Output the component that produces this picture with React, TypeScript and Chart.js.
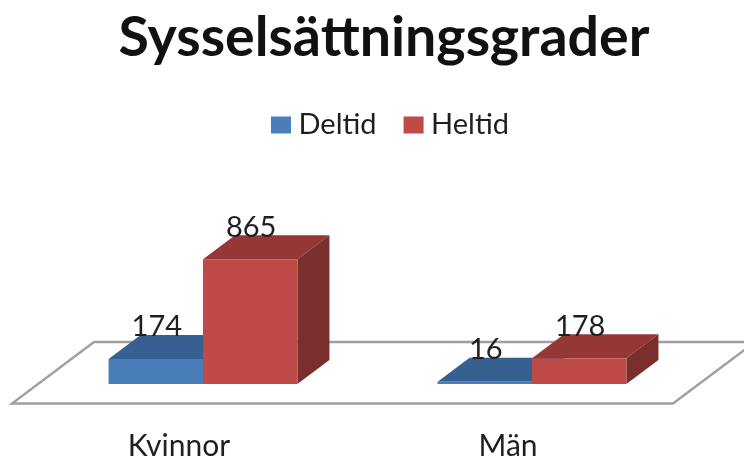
import React, { useEffect, useRef } from "react";
import { Chart, registerables } from "chart.js";

Chart.register(...registerables);

const categories = ["Kvinnor", "Män"];
const deltid = [174, 16];
const heltid = [865, 178];
const seriesNames = ["Deltid", "Heltid"];

const FONT = "Lato, Carlito, 'Open Sans', sans-serif";
const TEXT = "#1f1f1f";
const BLUE = { front: "#4a7ebb", top: "#376092", side: "#2f5480" };
const RED = { front: "#be4b48", top: "#953735", side: "#7a2f2d" };
const DEPTH_X = 32;
const DEPTH_Y = 24;

const floorPlugin = {
  id: "floor3d",
  afterLayout(chart: any) {
    chart.titleBlock.left += 16.5;
    chart.titleBlock.right += 16.5;
    chart.legend.left += 26;
    chart.legend.right += 26;
  },
  beforeDatasetsDraw(chart: any) {
    const { ctx, scales } = chart;
    const base = scales.y.getPixelForValue(0);
    const cx = (scales.x.getPixelForValue(0) + scales.x.getPixelForValue(1)) / 2;
    const frontY = base + 19.5;
    const backY = base - 42;
    ctx.save();
    ctx.strokeStyle = "#a0a0a0";
    ctx.lineWidth = 2.4;
    ctx.fillStyle = "#ffffff";
    ctx.beginPath();
    ctx.moveTo(cx - 355.5, frontY);
    ctx.lineTo(cx + 305.5, frontY);
    ctx.lineTo(cx + 387.5, backY);
    ctx.lineTo(cx - 273.5, backY);
    ctx.closePath();
    ctx.fill();
    ctx.stroke();
    ctx.restore();

    const palette = [BLUE, RED];
    categories.forEach((_, i) => {
      [0, 1].forEach((d) => {
        const bar = chart.getDatasetMeta(d).data[i];
        const half = bar.width / 2;
        const l = bar.x - half;
        const r = bar.x + half;
        const t = bar.y;
        const b = bar.base;
        ctx.fillStyle = palette[d].top;
        ctx.beginPath();
        ctx.moveTo(l, t);
        ctx.lineTo(l + DEPTH_X, t - DEPTH_Y);
        ctx.lineTo(r + DEPTH_X, t - DEPTH_Y);
        ctx.lineTo(r, t);
        ctx.closePath();
        ctx.fill();
        ctx.fillStyle = palette[d].side;
        ctx.beginPath();
        ctx.moveTo(r, t);
        ctx.lineTo(r + DEPTH_X, t - DEPTH_Y);
        ctx.lineTo(r + DEPTH_X, b - DEPTH_Y);
        ctx.lineTo(r, b);
        ctx.closePath();
        ctx.fill();
      });
    });
  },
  afterDatasetsDraw(chart: any) {
    const { ctx } = chart;
    ctx.save();
    ctx.font = `29px ${FONT}`;
    ctx.fillStyle = TEXT;
    ctx.textAlign = "center";
    ctx.textBaseline = "middle";
    [deltid, heltid].forEach((vals, d) => {
      vals.forEach((v, i) => {
        const bar = chart.getDatasetMeta(d).data[i];
        ctx.fillText(String(v), bar.x + 1, bar.y - 32);
      });
    });
    ctx.restore();
  },
};

export default function App() {
  const ref = useRef<HTMLCanvasElement>(null);
  useEffect(() => {
    const chart = new Chart(ref.current!, {
      type: "bar",
      data: {
        labels: categories,
        datasets: [
          { label: seriesNames[0], data: deltid, backgroundColor: BLUE.front },
          { label: seriesNames[1], data: heltid, backgroundColor: RED.front },
        ],
      },
      options: {
        animation: false,
        responsive: false,
        datasets: { bar: { categoryPercentage: 0.574, barPercentage: 1 } },
        layout: { padding: { left: 38.5, right: 47.5, top: 0, bottom: 0 } },
        plugins: {
          title: {
            display: true,
            text: "Sysselsättningsgrader",
            color: "#111111",
            font: { family: FONT, size: 55.5, weight: "bold" },
            padding: { top: 5, bottom: 5 },
          },
          legend: {
            display: true,
            position: "top",
            labels: {
              color: TEXT,
              font: { family: FONT, size: 29 },
              boxWidth: 6,
              boxHeight: 3,
              padding: 34,
              generateLabels: (c: any) =>
                c.data.datasets.map((ds: any, i: number) => ({
                  text: ds.label,
                  fillStyle: ds.backgroundColor,
                  strokeStyle: ds.backgroundColor,
                  lineWidth: 14,
                  datasetIndex: i,
                  fontColor: TEXT,
                })),
            },
          },
          tooltip: { enabled: false },
        },
        scales: {
          x: {
            grid: { display: false },
            border: { display: false },
            ticks: {
              color: TEXT,
              font: { family: FONT, size: 30 },
              padding: 36,
              maxRotation: 0,
              labelOffset: -24,
            },
            afterFit: (s: any) => {
              s.height = 72;
            },
          },
          y: { display: false, min: 0, max: 1626 },
        },
      },
      plugins: [floorPlugin],
    });
    return () => chart.destroy();
  }, []);
  return (
    <canvas
      ref={ref}
      width={744}
      height={456}
      style={{ position: "fixed", left: 0, top: 0, display: "block", background: "#fff", filter: "blur(0.6px)" }}
    />
  );
}
